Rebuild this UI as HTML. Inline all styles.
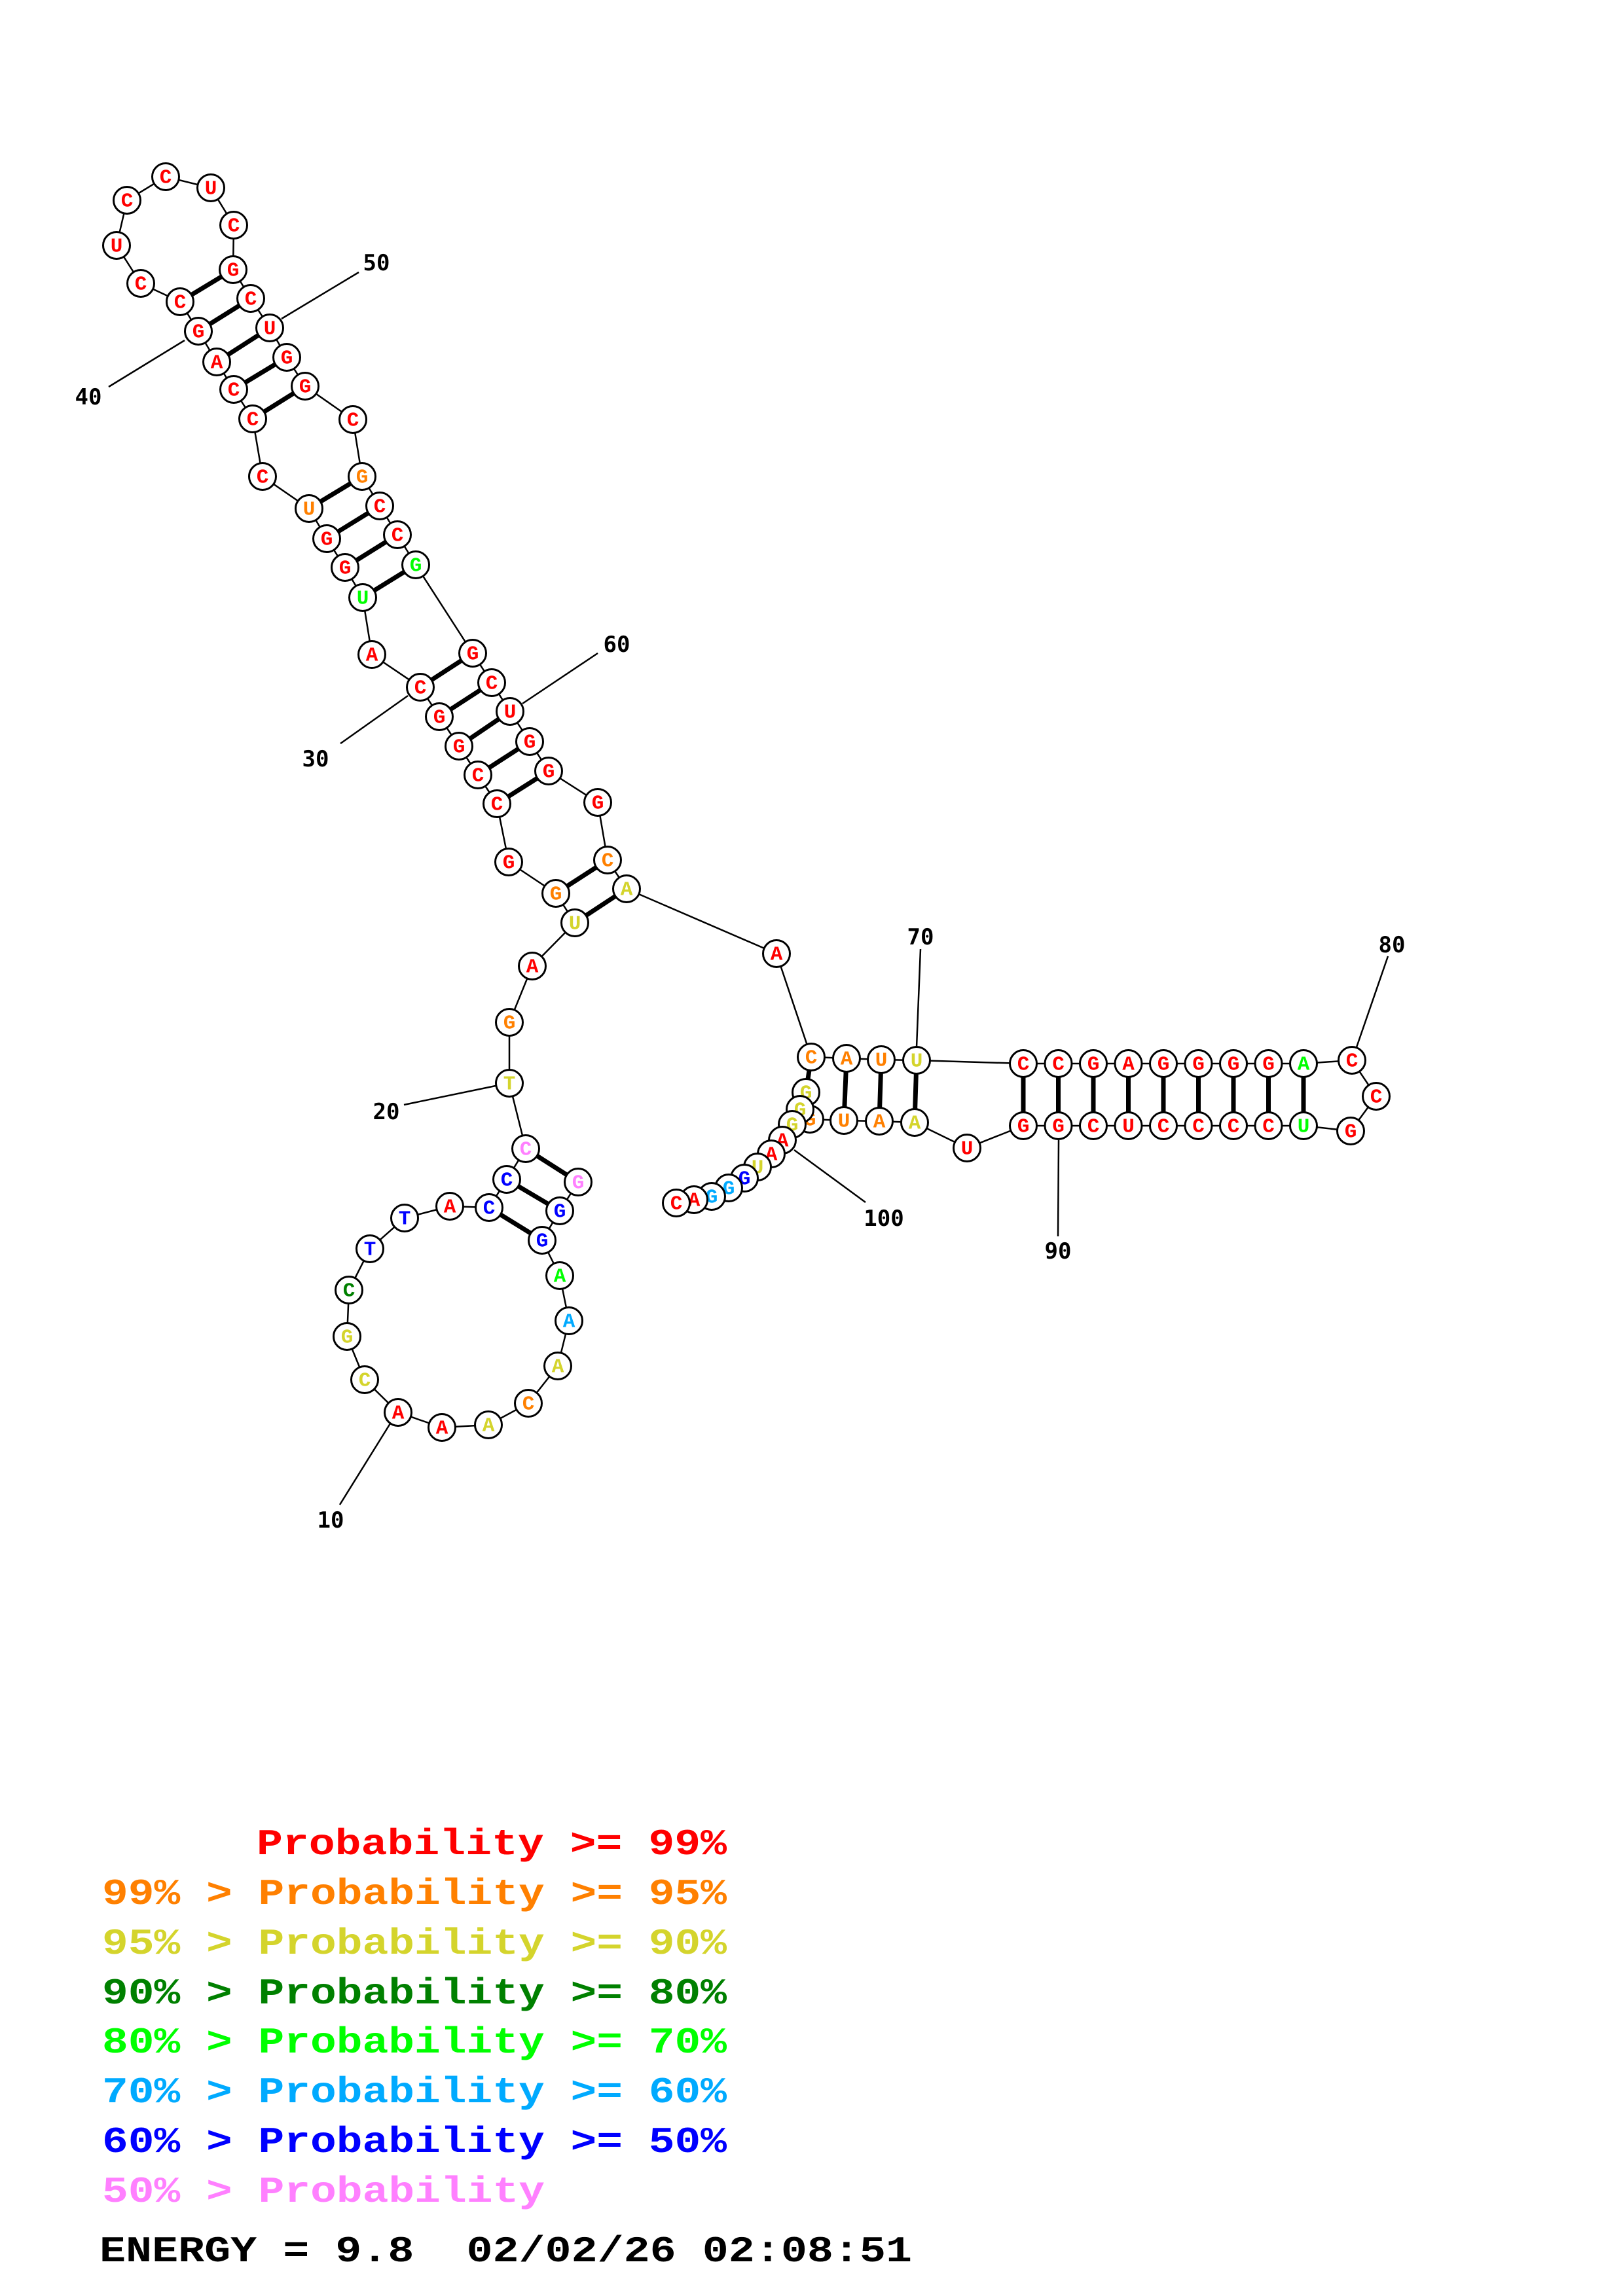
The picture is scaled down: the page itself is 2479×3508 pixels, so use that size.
<!DOCTYPE html>
<html><head><meta charset="utf-8"><style>
html,body{margin:0;padding:0;background:#fff}
svg{display:block}
.b{fill:none;stroke:#000;stroke-width:2.5}
.p{stroke:#000;stroke-width:7}
circle{fill:#fff;stroke:#000;stroke-width:3;r:20.5}
.n{font-family:"Liberation Mono",monospace;font-weight:bold;font-size:31px;text-anchor:middle;dominant-baseline:central}
.l{font-family:"DejaVu Sans Mono","Liberation Mono",monospace;font-weight:bold;font-size:34px;text-anchor:middle;dominant-baseline:central}
.lg{font-family:"Liberation Mono",monospace;font-weight:bold;font-size:56px}
.R{fill:#ff0000}.O{fill:#ff8000}.Y{fill:#d4d42c}.D{fill:#008000}.G{fill:#00ff00}.C{fill:#00aaff}.B{fill:#0000ff}.P{fill:#ff80ff}
</style></head><body>
<svg width="2479" height="3508" viewBox="0 0 2479 3508" xmlns="http://www.w3.org/2000/svg">
<g class="b">
<line x1="166" y1="591" x2="282" y2="520"/>
<line x1="548" y1="416" x2="430" y2="487"/>
<line x1="520" y1="1136" x2="623" y2="1063"/>
<line x1="913" y1="998" x2="798" y2="1075"/>
<line x1="617" y1="1688" x2="757" y2="1659"/>
<line x1="519" y1="2299" x2="596" y2="2175"/>
<line x1="1406" y1="1450" x2="1400" y2="1600"/>
<line x1="2120" y1="1461" x2="2072" y2="1600"/>
<line x1="1617" y1="1742" x2="1616" y2="1889"/>
<line x1="1213" y1="1757" x2="1322" y2="1837"/>
</g>
<g>
<text class="l" x="135" y="607">40</text>
<text class="l" x="575" y="402">50</text>
<text class="l" x="482" y="1160">30</text>
<text class="l" x="942" y="985">60</text>
<text class="l" x="590" y="1699">20</text>
<text class="l" x="505" y="2323">10</text>
<text class="l" x="1406" y="1432">70</text>
<text class="l" x="2126" y="1444">80</text>
<text class="l" x="1616" y="1912">90</text>
<text class="l" x="1350" y="1862">100</text>
</g>
<polyline class="b" points="883,1806 855,1850 828,1895 855,1949 869,2018 852,2087 807,2144 746,2177 675,2181 608,2158 557,2108 530,2042 533,1971 565,1908 618,1861 687,1843 747,1845 774,1802 803,1755 778,1655 778,1562 813,1476 878,1410 849,1365 777,1317 759,1228 730,1184 701,1140 671,1095 642,1050 568,1000 554,913 527,867 499,823 472,777 401,728 386,640 357,595 331,553 303,506 275,461 215,433 178,375 194,306 253,270 322,287 357,344 356,412 383,456 412,501 438,546 466,590 539,641 553,728 580,773 607,817 635,863 722,998 751,1043 779,1087 809,1133 838,1178 913,1226 928,1314 957,1358 1186,1457 1239,1615 1293,1617 1346,1619 1400,1620 1563,1625 1616.5,1625 1670,1625 1723.5,1625 1777,1625 1830.5,1625 1884,1625 1937.5,1625 1991,1625 2065,1620 2102,1675 2063,1728 1991,1720 1937.5,1720 1884,1720 1830.5,1720 1777,1720 1723.5,1720 1670,1720 1616.5,1720 1563,1720 1477,1754 1397,1715 1343,1713 1289,1712 1237,1710 1231,1669 1222,1695 1210,1718 1195,1742 1178,1763 1157,1783 1137,1800 1113,1815 1087,1828 1060,1833 1033,1838"/>
<g class="p">
<line x1="883" y1="1806" x2="803" y2="1755"/>
<line x1="855" y1="1850" x2="774" y2="1802"/>
<line x1="828" y1="1895" x2="747" y2="1845"/>
<line x1="878" y1="1410" x2="957" y2="1358"/>
<line x1="849" y1="1365" x2="928" y2="1314"/>
<line x1="759" y1="1228" x2="838" y2="1178"/>
<line x1="730" y1="1184" x2="809" y2="1133"/>
<line x1="701" y1="1140" x2="779" y2="1087"/>
<line x1="671" y1="1095" x2="751" y2="1043"/>
<line x1="642" y1="1050" x2="722" y2="998"/>
<line x1="554" y1="913" x2="635" y2="863"/>
<line x1="527" y1="867" x2="607" y2="817"/>
<line x1="499" y1="823" x2="580" y2="773"/>
<line x1="472" y1="777" x2="553" y2="728"/>
<line x1="386" y1="640" x2="466" y2="590"/>
<line x1="357" y1="595" x2="438" y2="546"/>
<line x1="331" y1="553" x2="412" y2="501"/>
<line x1="303" y1="506" x2="383" y2="456"/>
<line x1="275" y1="461" x2="356" y2="412"/>
<line x1="1239" y1="1615" x2="1231" y2="1669"/>
<line x1="1293" y1="1617" x2="1289" y2="1712"/>
<line x1="1346" y1="1619" x2="1343" y2="1713"/>
<line x1="1400" y1="1620" x2="1397" y2="1715"/>
<line x1="1563" y1="1625" x2="1563" y2="1720"/>
<line x1="1616.5" y1="1625" x2="1616.5" y2="1720"/>
<line x1="1670" y1="1625" x2="1670" y2="1720"/>
<line x1="1723.5" y1="1625" x2="1723.5" y2="1720"/>
<line x1="1777" y1="1625" x2="1777" y2="1720"/>
<line x1="1830.5" y1="1625" x2="1830.5" y2="1720"/>
<line x1="1884" y1="1625" x2="1884" y2="1720"/>
<line x1="1937.5" y1="1625" x2="1937.5" y2="1720"/>
<line x1="1991" y1="1625" x2="1991" y2="1720"/>
</g>
<g>
<circle cx="883" cy="1806"/><text class="n P" x="883" y="1808">G</text>
<circle cx="855" cy="1850"/><text class="n B" x="855" y="1852">G</text>
<circle cx="828" cy="1895"/><text class="n B" x="828" y="1897">G</text>
<circle cx="855" cy="1949"/><text class="n G" x="855" y="1951">A</text>
<circle cx="869" cy="2018"/><text class="n C" x="869" y="2020">A</text>
<circle cx="852" cy="2087"/><text class="n Y" x="852" y="2089">A</text>
<circle cx="807" cy="2144"/><text class="n O" x="807" y="2146">C</text>
<circle cx="746" cy="2177"/><text class="n Y" x="746" y="2179">A</text>
<circle cx="675" cy="2181"/><text class="n R" x="675" y="2183">A</text>
<circle cx="608" cy="2158"/><text class="n R" x="608" y="2160">A</text>
<circle cx="557" cy="2108"/><text class="n Y" x="557" y="2110">C</text>
<circle cx="530" cy="2042"/><text class="n Y" x="530" y="2044">G</text>
<circle cx="533" cy="1971"/><text class="n D" x="533" y="1973">C</text>
<circle cx="565" cy="1908"/><text class="n B" x="565" y="1910">T</text>
<circle cx="618" cy="1861"/><text class="n B" x="618" y="1863">T</text>
<circle cx="687" cy="1843"/><text class="n R" x="687" y="1845">A</text>
<circle cx="747" cy="1845"/><text class="n B" x="747" y="1847">C</text>
<circle cx="774" cy="1802"/><text class="n B" x="774" y="1804">C</text>
<circle cx="803" cy="1755"/><text class="n P" x="803" y="1757">C</text>
<circle cx="778" cy="1655"/><text class="n Y" x="778" y="1657">T</text>
<circle cx="778" cy="1562"/><text class="n O" x="778" y="1564">G</text>
<circle cx="813" cy="1476"/><text class="n R" x="813" y="1478">A</text>
<circle cx="878" cy="1410"/><text class="n Y" x="878" y="1412">U</text>
<circle cx="849" cy="1365"/><text class="n O" x="849" y="1367">G</text>
<circle cx="777" cy="1317"/><text class="n R" x="777" y="1319">G</text>
<circle cx="759" cy="1228"/><text class="n R" x="759" y="1230">C</text>
<circle cx="730" cy="1184"/><text class="n R" x="730" y="1186">C</text>
<circle cx="701" cy="1140"/><text class="n R" x="701" y="1142">G</text>
<circle cx="671" cy="1095"/><text class="n R" x="671" y="1097">G</text>
<circle cx="642" cy="1050"/><text class="n R" x="642" y="1052">C</text>
<circle cx="568" cy="1000"/><text class="n R" x="568" y="1002">A</text>
<circle cx="554" cy="913"/><text class="n G" x="554" y="915">U</text>
<circle cx="527" cy="867"/><text class="n R" x="527" y="869">G</text>
<circle cx="499" cy="823"/><text class="n R" x="499" y="825">G</text>
<circle cx="472" cy="777"/><text class="n O" x="472" y="779">U</text>
<circle cx="401" cy="728"/><text class="n R" x="401" y="730">C</text>
<circle cx="386" cy="640"/><text class="n R" x="386" y="642">C</text>
<circle cx="357" cy="595"/><text class="n R" x="357" y="597">C</text>
<circle cx="331" cy="553"/><text class="n R" x="331" y="555">A</text>
<circle cx="303" cy="506"/><text class="n R" x="303" y="508">G</text>
<circle cx="275" cy="461"/><text class="n R" x="275" y="463">C</text>
<circle cx="215" cy="433"/><text class="n R" x="215" y="435">C</text>
<circle cx="178" cy="375"/><text class="n R" x="178" y="377">U</text>
<circle cx="194" cy="306"/><text class="n R" x="194" y="308">C</text>
<circle cx="253" cy="270"/><text class="n R" x="253" y="272">C</text>
<circle cx="322" cy="287"/><text class="n R" x="322" y="289">U</text>
<circle cx="357" cy="344"/><text class="n R" x="357" y="346">C</text>
<circle cx="356" cy="412"/><text class="n R" x="356" y="414">G</text>
<circle cx="383" cy="456"/><text class="n R" x="383" y="458">C</text>
<circle cx="412" cy="501"/><text class="n R" x="412" y="503">U</text>
<circle cx="438" cy="546"/><text class="n R" x="438" y="548">G</text>
<circle cx="466" cy="590"/><text class="n R" x="466" y="592">G</text>
<circle cx="539" cy="641"/><text class="n R" x="539" y="643">C</text>
<circle cx="553" cy="728"/><text class="n O" x="553" y="730">G</text>
<circle cx="580" cy="773"/><text class="n R" x="580" y="775">C</text>
<circle cx="607" cy="817"/><text class="n R" x="607" y="819">C</text>
<circle cx="635" cy="863"/><text class="n G" x="635" y="865">G</text>
<circle cx="722" cy="998"/><text class="n R" x="722" y="1000">G</text>
<circle cx="751" cy="1043"/><text class="n R" x="751" y="1045">C</text>
<circle cx="779" cy="1087"/><text class="n R" x="779" y="1089">U</text>
<circle cx="809" cy="1133"/><text class="n R" x="809" y="1135">G</text>
<circle cx="838" cy="1178"/><text class="n R" x="838" y="1180">G</text>
<circle cx="913" cy="1226"/><text class="n R" x="913" y="1228">G</text>
<circle cx="928" cy="1314"/><text class="n O" x="928" y="1316">C</text>
<circle cx="957" cy="1358"/><text class="n Y" x="957" y="1360">A</text>
<circle cx="1186" cy="1457"/><text class="n R" x="1186" y="1459">A</text>
<circle cx="1239" cy="1615"/><text class="n O" x="1239" y="1617">C</text>
<circle cx="1293" cy="1617"/><text class="n O" x="1293" y="1619">A</text>
<circle cx="1346" cy="1619"/><text class="n O" x="1346" y="1621">U</text>
<circle cx="1400" cy="1620"/><text class="n Y" x="1400" y="1622">U</text>
<circle cx="1563" cy="1625"/><text class="n R" x="1563" y="1627">C</text>
<circle cx="1616.5" cy="1625"/><text class="n R" x="1616.5" y="1627">C</text>
<circle cx="1670" cy="1625"/><text class="n R" x="1670" y="1627">G</text>
<circle cx="1723.5" cy="1625"/><text class="n R" x="1723.5" y="1627">A</text>
<circle cx="1777" cy="1625"/><text class="n R" x="1777" y="1627">G</text>
<circle cx="1830.5" cy="1625"/><text class="n R" x="1830.5" y="1627">G</text>
<circle cx="1884" cy="1625"/><text class="n R" x="1884" y="1627">G</text>
<circle cx="1937.5" cy="1625"/><text class="n R" x="1937.5" y="1627">G</text>
<circle cx="1991" cy="1625"/><text class="n G" x="1991" y="1627">A</text>
<circle cx="2065" cy="1620"/><text class="n R" x="2065" y="1622">C</text>
<circle cx="2102" cy="1675"/><text class="n R" x="2102" y="1677">C</text>
<circle cx="2063" cy="1728"/><text class="n R" x="2063" y="1730">G</text>
<circle cx="1991" cy="1720"/><text class="n G" x="1991" y="1722">U</text>
<circle cx="1937.5" cy="1720"/><text class="n R" x="1937.5" y="1722">C</text>
<circle cx="1884" cy="1720"/><text class="n R" x="1884" y="1722">C</text>
<circle cx="1830.5" cy="1720"/><text class="n R" x="1830.5" y="1722">C</text>
<circle cx="1777" cy="1720"/><text class="n R" x="1777" y="1722">C</text>
<circle cx="1723.5" cy="1720"/><text class="n R" x="1723.5" y="1722">U</text>
<circle cx="1670" cy="1720"/><text class="n R" x="1670" y="1722">C</text>
<circle cx="1616.5" cy="1720"/><text class="n R" x="1616.5" y="1722">G</text>
<circle cx="1563" cy="1720"/><text class="n R" x="1563" y="1722">G</text>
<circle cx="1477" cy="1754"/><text class="n R" x="1477" y="1756">U</text>
<circle cx="1397" cy="1715"/><text class="n Y" x="1397" y="1717">A</text>
<circle cx="1343" cy="1713"/><text class="n O" x="1343" y="1715">A</text>
<circle cx="1289" cy="1712"/><text class="n O" x="1289" y="1714">U</text>
<circle cx="1237" cy="1710"/><text class="n O" x="1237" y="1712">G</text>
<circle cx="1231" cy="1669"/><text class="n Y" x="1231" y="1671">G</text>
<circle cx="1222" cy="1695"/><text class="n Y" x="1222" y="1697">G</text>
<circle cx="1210" cy="1718"/><text class="n Y" x="1210" y="1720">G</text>
<circle cx="1195" cy="1742"/><text class="n R" x="1195" y="1744">A</text>
<circle cx="1178" cy="1763"/><text class="n R" x="1178" y="1765">A</text>
<circle cx="1157" cy="1783"/><text class="n Y" x="1157" y="1785">U</text>
<circle cx="1137" cy="1800"/><text class="n B" x="1137" y="1802">G</text>
<circle cx="1113" cy="1815"/><text class="n C" x="1113" y="1817">G</text>
<circle cx="1087" cy="1828"/><text class="n C" x="1087" y="1830">G</text>
<circle cx="1060" cy="1833"/><text class="n R" x="1060" y="1835">A</text>
<circle cx="1033" cy="1838"/><text class="n R" x="1033" y="1840">C</text>
</g>
<g class="lg">
<text class="R" x="392" y="2833" textLength="718" lengthAdjust="spacingAndGlyphs">Probability &gt;= 99%</text>
<text class="O" x="156" y="2909" textLength="954" lengthAdjust="spacingAndGlyphs">99% &gt; Probability &gt;= 95%</text>
<text class="Y" x="156" y="2985" textLength="954" lengthAdjust="spacingAndGlyphs">95% &gt; Probability &gt;= 90%</text>
<text class="D" x="156" y="3061" textLength="954" lengthAdjust="spacingAndGlyphs">90% &gt; Probability &gt;= 80%</text>
<text class="G" x="156" y="3136" textLength="954" lengthAdjust="spacingAndGlyphs">80% &gt; Probability &gt;= 70%</text>
<text class="C" x="156" y="3212" textLength="954" lengthAdjust="spacingAndGlyphs">70% &gt; Probability &gt;= 60%</text>
<text class="B" x="156" y="3288" textLength="954" lengthAdjust="spacingAndGlyphs">60% &gt; Probability &gt;= 50%</text>
<text class="P" x="156" y="3364" textLength="676" lengthAdjust="spacingAndGlyphs">50% &gt; Probability</text>
<text x="152" y="3455" fill="#000" textLength="1241" lengthAdjust="spacingAndGlyphs" xml:space="preserve">ENERGY = 9.8  02/02/26 02:08:51</text>
</g>
</svg>
</body></html>
